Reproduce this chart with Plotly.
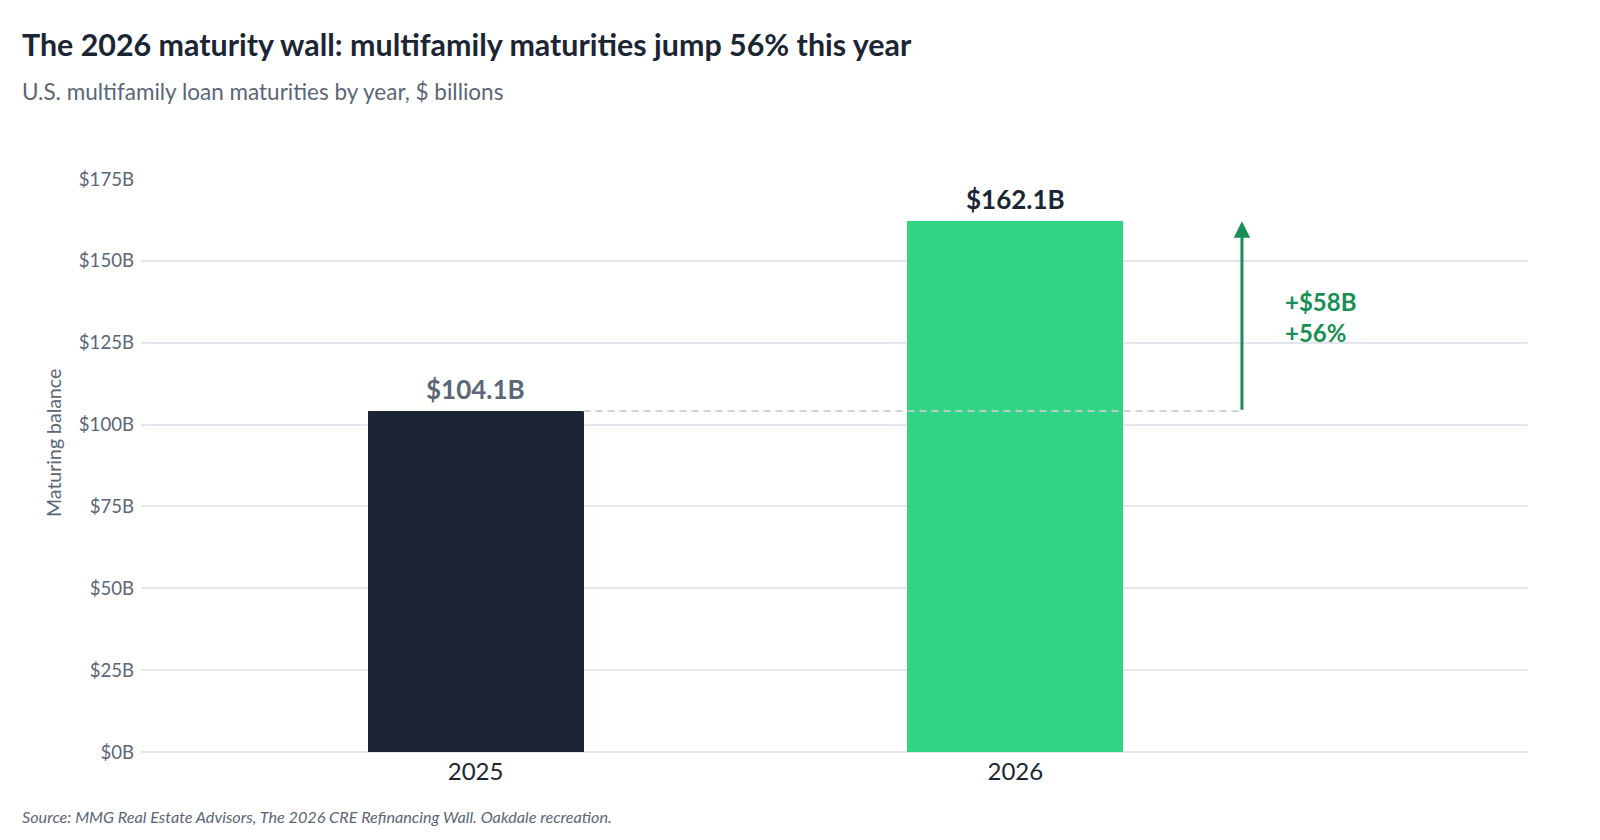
import plotly.graph_objects as go

# data
years = ["2025", "2026"]
maturities = [104.1, 162.1]
bar_colors = ["#1b2533", "#31d583"]
label_colors = ["#5b6676", "#1b2533"]
y_ticks = [0, 25, 50, 75, 100, 125, 150, 175]
y_tick_text = ["$" + str(v) + "B" for v in y_ticks]

change_abs = maturities[1] - maturities[0]
change_pct = change_abs / maturities[0] * 100

FONT = "Lato, 'Open Sans', sans-serif"
DARK = "#1b2533"
GREY = "#5b6676"
GREEN_DARK = "#178f55"

# page has an 8px body margin, so screen positions are shifted by 8
OFF = 8
W, H = 1600, 840
L, R, T, B = 141 - OFF, W - (1528 - OFF), 179 - OFF, H - (752 - OFF)
pw, ph = W - L - R, H - T - B


def px_x(p):
    return (p - OFF - L) / pw


def px_y(p):
    return (H - B - (p - OFF)) / ph


fig = go.Figure()

# dashed guide at the 2025 level
fig.add_trace(go.Scatter(
    x=[0.2, 1.42], y=[maturities[0], maturities[0]],
    mode="lines", line=dict(color="#c8ccd1", width=1.8, dash="7px,5px"),
    hoverinfo="skip", showlegend=False,
))

fig.add_trace(go.Bar(
    x=[0, 1], y=maturities, width=0.4,
    marker=dict(color=bar_colors, line=dict(width=0)),
    showlegend=False, hoverinfo="skip",
))

# value labels
for i, v in enumerate(maturities):
    fig.add_annotation(
        x=i, y=v, xref="x", yref="y", yanchor="bottom", yshift=4,
        text="<b>$" + f"{v:.1f}" + "B</b>", showarrow=False,
        font=dict(family=FONT, size=26, color=label_colors[i]),
    )

# arrow showing the jump
fig.add_annotation(
    x=1.42, y=maturities[1], ax=1.42, ay=maturities[0],
    xref="x", yref="y", axref="x", ayref="y",
    showarrow=True, arrowhead=2, arrowsize=1.1, arrowwidth=3,
    arrowcolor=GREEN_DARK, text="",
)
fig.add_annotation(
    x=1.496, y=132.9, xref="x", yref="y",
    text=f"<b>+${change_abs:.0f}B<br>+{change_pct:.0f}%</b>",
    showarrow=False, xanchor="left", yanchor="middle", align="left",
    font=dict(family=FONT, size=24, color=GREEN_DARK),
)

# title, subtitle, source, axis title
fig.add_annotation(
    x=px_x(20), y=px_y(44), xref="paper", yref="paper",
    text="<b>The 2026 maturity wall: multifamily maturities jump 56% this year</b>",
    showarrow=False, xanchor="left", yanchor="middle",
    font=dict(family=FONT, size=30.4, color=DARK),
)
fig.add_annotation(
    x=px_x(20), y=px_y(92), xref="paper", yref="paper",
    text="U.S. multifamily loan maturities by year, $ billions",
    showarrow=False, xanchor="left", yanchor="middle",
    font=dict(family=FONT, size=22.5, color=GREY),
)
fig.add_annotation(
    x=px_x(20), y=px_y(816), xref="paper", yref="paper",
    text="<i>Source: MMG Real Estate Advisors, The 2026 CRE Refinancing Wall. Oakdale recreation.</i>",
    showarrow=False, xanchor="left", yanchor="middle",
    font=dict(family=FONT, size=16.2, color=GREY),
)
fig.add_annotation(
    x=px_x(53), y=px_y(443), xref="paper", yref="paper",
    text="Maturing balance", textangle=-90,
    showarrow=False, xanchor="center", yanchor="middle",
    font=dict(family=FONT, size=19.5, color=GREY),
)

fig.update_layout(
    width=W, height=H,
    margin=dict(l=L, r=R, t=T, b=B, autoexpand=False),
    paper_bgcolor="white", plot_bgcolor="white",
    font=dict(family=FONT, color=GREY),
    bargap=0,
)

fig.update_xaxes(
    range=[-0.62, 1.95], tickvals=[0, 1], ticktext=years,
    tickfont=dict(family=FONT, size=24, color=DARK),
    showgrid=False, zeroline=False, showline=False, ticks="",
    ticklabelstandoff=3, automargin=False,
)
fig.update_yaxes(
    range=[0, 175], tickvals=y_ticks, ticktext=y_tick_text,
    tickfont=dict(family=FONT, size=18.6, color=GREY),
    showgrid=True, gridcolor="#e3e6ea", gridwidth=1.6,
    zeroline=True, zerolinecolor="#e3e6ea", zerolinewidth=1.6,
    ticks="", ticklabelstandoff=6, automargin=False,
)

fig.write_html("out.html")
